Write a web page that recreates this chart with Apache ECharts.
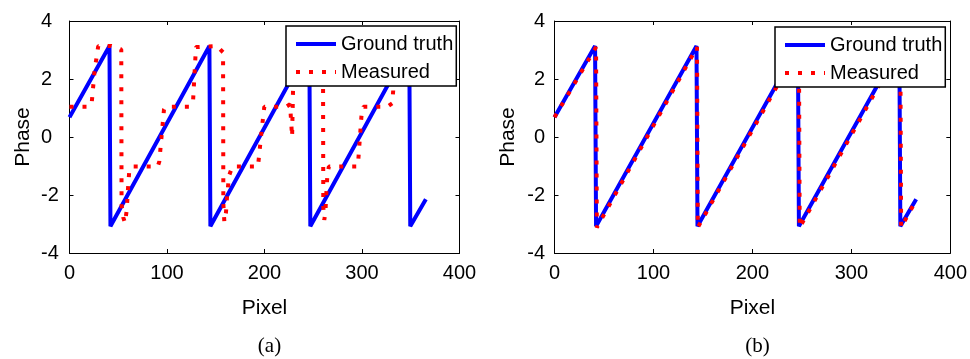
<!DOCTYPE html>
<html>
<head>
<meta charset="utf-8">
<script src="https://cdn.jsdelivr.net/npm/echarts@6/dist/echarts.min.js"></script>
<style>
  html, body { margin: 0; padding: 0; background: #fff; }
  #chart { width: 970px; height: 359px; }
</style>
</head>
<body>
<div id="chart"></div>
<script>
// ground truth (same in both panels)
const truthPixel = [0, 41, 42, 143.5, 144.5, 246, 247, 348.5, 349.5, 365.5];
const truthPhase = [0.68, 3.14, -3.08, 3.14, -3.08, 3.14, -3.08, 3.14, -3.08, -2.15];

// measured, panel (a)
const measAPixel = [0, 20, 22.8, 25.8, 29.5, 42.6, 53.1,
    53.4, 55.2, 56.9, 58.7, 59.5, 60.3, 61.3, 64,
    90.5, 92.1, 96.9, 98.5,
    123, 126.8, 129.7, 131, 151, 157.5,
    157.8, 158.8, 160.5, 161.5, 163.6, 167,
    193.3, 194.7, 197.1, 199.8,
    222, 226.2, 228.3, 229.5, 231,
    254, 260,
    260.3, 261.3, 262.5, 263.3, 264.5, 266,
    295, 295.9, 299.7, 301.5,
    326, 331, 332, 334, 366];
const measAPhase = [1.04, 1.04, 1.18, 2.31, 3.14, 3.14, 3.02,
    -2.34, -2.78, -2.96, -2.52, -2.06, -1.62, -1.17, -1.02,
    -1.02, -0.85, 0.95, 1.04,
    1.04, 1.28, 3.1, 3.14, 3.14, 2.92,
    -2.3, -2.92, -2.6, -2.1, -1.34, -1.02,
    -1.02, -0.56, 0.24, 1.04,
    1.04, 1.13, 0.01, 2.0, 3.14,
    3.14, 2.95,
    -2.4, -2.86, -2.6, -2.0, -1.3, -1.02,
    -1.02, -0.94, 0.84, 1.04,
    1.04, 1.16, 1.6, 3.14, 3.14];

// measured, panel (b)
const measBPixel = [0, 42, 42.8, 144, 144.8, 247, 247.8, 349.5, 350.3, 365.5];
const measBPhase = [0.68, 3.1, -3.12, 3.1, -3.12, 3.1, -3.12, 3.1, -3.12, -2.17];

const panelLabels = ['(a)', '(b)'];

const font = 'Liberation Sans, Arial, sans-serif';
const pairs = (xs, ys) => xs.map((x, i) => [x, ys[i]]);

const grids = [
    { left: 69.5, top: 21, width: 390, height: 232 },
    { left: 554.5, top: 21, width: 396, height: 232 }
];

const xAxes = [], yAxes = [], series = [], legends = [], titles = [];
grids.forEach((g, i) => {
    const base = {
        gridIndex: i,
        type: 'value',
        axisLine: { onZero: false, lineStyle: { color: '#000', width: 1 } },
        axisTick: { inside: true, length: 4, lineStyle: { color: '#000' } },
        splitLine: { show: false }
    };
    xAxes.push(Object.assign({}, base, {
        position: 'bottom', min: 0, max: 400, interval: 100,
        axisLabel: { color: '#000', fontSize: 20, fontFamily: font, margin: 10 },
        name: 'Pixel', nameLocation: 'middle', nameGap: 45,
        nameTextStyle: { color: '#000', fontSize: 21, fontFamily: font }
    }));
    xAxes.push(Object.assign({}, base, {
        position: 'top', min: 0, max: 400, interval: 100,
        axisLabel: { show: false }
    }));
    yAxes.push(Object.assign({}, base, {
        position: 'left', min: -4, max: 4, interval: 2,
        axisLabel: i === 0
            ? { color: '#000', fontSize: 20, fontFamily: font, align: 'left', margin: 28.5 }
            : { color: '#000', fontSize: 20, fontFamily: font, margin: 9.5 },
        name: 'Phase', nameLocation: 'middle', nameGap: 36,
        nameTextStyle: { color: '#000', fontSize: 21, fontFamily: font }
    }));
    yAxes.push(Object.assign({}, base, {
        position: 'right', min: -4, max: 4, interval: 2,
        axisLabel: { show: false }
    }));

    series.push({
        name: 'Ground truth', type: 'line',
        xAxisIndex: i * 2, yAxisIndex: i * 2,
        data: pairs(truthPixel, truthPhase),
        symbol: 'none', showSymbol: false,
        lineStyle: { color: '#0000ff', width: 4 },
        itemStyle: { color: '#0000ff' },
        z: 2
    });
    series.push({
        name: 'Measured', type: 'line',
        xAxisIndex: i * 2, yAxisIndex: i * 2,
        data: i === 0 ? pairs(measAPixel, measAPhase) : pairs(measBPixel, measBPhase),
        symbol: 'none', showSymbol: false,
        lineStyle: { color: '#ff0000', width: 4, type: [4, 9], cap: 'butt' },
        itemStyle: { color: '#ff0000' },
        z: 3
    });

    legends.push({
        data: ['Ground truth', 'Measured'],
        orient: 'vertical',
        left: i === 0 ? 286 : 775,
        top: i === 0 ? 26 : 27,
        padding: [8, 3, 4, 8],
        itemWidth: 40,
        itemHeight: 14,
        itemGap: 8,
        backgroundColor: '#fff',
        borderColor: '#000',
        borderWidth: 1.5,
        borderRadius: 0,
        selectedMode: false,
        itemStyle: { opacity: 0, borderWidth: 0 },
        lineStyle: { width: 4 },
        textStyle: { color: '#000', fontSize: 20, fontFamily: font }
    });

    titles.push({
        text: panelLabels[i],
        left: g.left + g.width / 2,
        top: 331,
        textAlign: 'center',
        textStyle: { color: '#000', fontSize: 21, fontWeight: 'normal', fontFamily: 'Liberation Serif, Times New Roman, serif' }
    });
});

const chart = echarts.init(document.getElementById('chart'));
chart.setOption({
    animation: false,
    backgroundColor: '#fff',
    title: titles,
    legend: legends,
    grid: grids,
    xAxis: xAxes,
    yAxis: yAxes,
    series: series
});
</script>
</body>
</html>
